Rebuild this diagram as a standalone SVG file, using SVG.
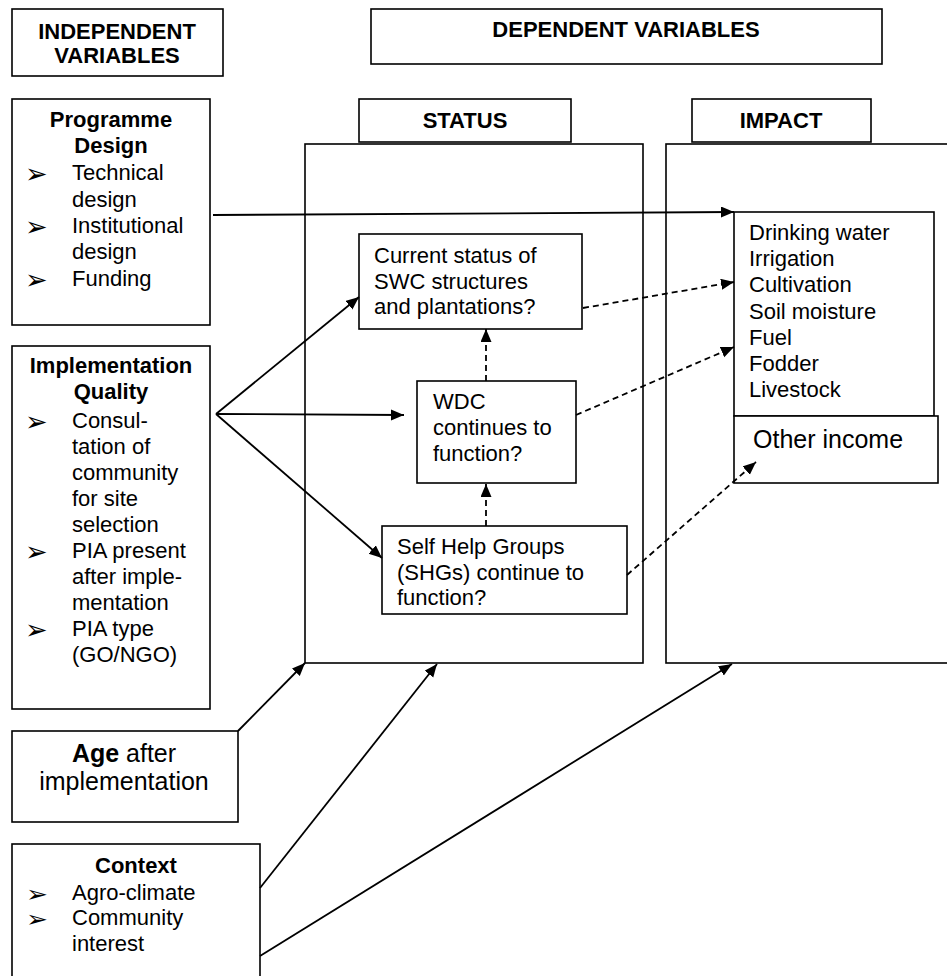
<svg xmlns="http://www.w3.org/2000/svg" width="947" height="976" viewBox="0 0 947 976">
<style>
.box{fill:#fff;stroke:#000;stroke-width:1.6}
.t{font-family:"Liberation Sans",Arial,sans-serif;font-size:22px;fill:#000}
.b{font-weight:bold}
.c{text-anchor:middle}
.big{font-size:25px}
.bul{font-family:"DejaVu Sans",sans-serif;font-size:27px;fill:#000}
.bs{font-family:"DejaVu Sans",sans-serif;font-size:21px;fill:#000}
.ln{fill:none;stroke:#000;stroke-width:1.8}
.dash{stroke-dasharray:6,4}
</style>
<defs>
<marker id="ah" markerUnits="userSpaceOnUse" markerWidth="14" markerHeight="12" refX="13" refY="5.5" orient="auto">
<path d="M0,0 L13,5.5 L0,11 z" fill="#000"/>
</marker>
</defs>

<g id="independent-header">
<rect class="box" x="12" y="9" width="211" height="67"/>
<text class="t b c" x="117" y="39">INDEPENDENT</text>
<text class="t b c" x="117" y="63">VARIABLES</text>
</g>

<g id="dependent-header">
<rect class="box" x="371" y="9" width="511" height="55"/>
<text class="t b c" x="626" y="37">DEPENDENT VARIABLES</text>
</g>

<g id="status-header">
<rect class="box" x="359" y="99" width="212" height="43"/>
<text class="t b c" x="465" y="128">STATUS</text>
</g>

<g id="impact-header">
<rect class="box" x="692" y="99" width="179" height="43"/>
<text class="t b c" x="781" y="128">IMPACT</text>
</g>

<g id="status-container">
<rect class="box" x="305" y="144" width="338" height="519"/>
</g>

<g id="impact-container">
<rect class="box" x="666" y="144" width="290" height="519"/>
</g>

<g id="programme-design">
<rect class="box" x="12" y="99" width="198" height="226"/>
<text class="t b c" x="111" y="127">Programme</text>
<text class="t b c" x="111" y="153">Design</text>
<text class="bul" x="25" y="183">➢</text>
<text class="t" x="72" y="180">Technical</text>
<text class="t" x="72" y="207">design</text>
<text class="bul" x="25" y="236">➢</text>
<text class="t" x="72" y="233">Institutional</text>
<text class="t" x="72" y="259">design</text>
<text class="bul" x="25" y="289">➢</text>
<text class="t" x="72" y="286">Funding</text>
</g>

<g id="implementation-quality">
<rect class="box" x="12" y="346" width="198" height="363"/>
<text class="t b c" x="111" y="373">Implementation</text>
<text class="t b c" x="111" y="399">Quality</text>
<text class="bul" x="25" y="431">➢</text>
<text class="t" x="72" y="428">Consul-</text>
<text class="t" x="72" y="454">tation of</text>
<text class="t" x="72" y="480">community</text>
<text class="t" x="72" y="506">for site</text>
<text class="t" x="72" y="532">selection</text>
<text class="bul" x="25" y="561">➢</text>
<text class="t" x="72" y="558">PIA present</text>
<text class="t" x="72" y="584">after imple-</text>
<text class="t" x="72" y="610">mentation</text>
<text class="bul" x="25" y="639">➢</text>
<text class="t" x="72" y="636">PIA type</text>
<text class="t" x="72" y="662">(GO/NGO)</text>
</g>

<g id="age">
<rect class="box" x="12" y="731" width="226" height="91"/>
<text class="t big c" x="124" y="762"><tspan class="b">Age</tspan> after</text>
<text class="t big c" x="124" y="790">implementation</text>
</g>

<g id="context">
<rect class="box" x="12" y="844" width="248" height="140"/>
<text class="t b c" x="136" y="873">Context</text>
<text class="bs" transform="translate(26,902) scale(1.25,1.1)">➢</text>
<text class="t" x="72" y="900">Agro-climate</text>
<text class="bs" transform="translate(26,927) scale(1.25,1.1)">➢</text>
<text class="t" x="72" y="925">Community</text>
<text class="t" x="72" y="951">interest</text>
</g>

<g id="current-status">
<rect class="box" x="359" y="234" width="223" height="95"/>
<text class="t" x="374" y="263">Current status of</text>
<text class="t" x="374" y="289">SWC structures</text>
<text class="t" x="374" y="314">and plantations?</text>
</g>

<g id="wdc">
<rect class="box" x="417" y="381" width="159" height="102"/>
<text class="t" x="433" y="409">WDC</text>
<text class="t" x="433" y="435">continues to</text>
<text class="t" x="433" y="461">function?</text>
</g>

<g id="shg">
<rect class="box" x="382" y="526" width="245" height="88"/>
<text class="t" x="397" y="554">Self Help Groups</text>
<text class="t" x="397" y="580">(SHGs) continue to</text>
<text class="t" x="397" y="605">function?</text>
</g>

<g id="impact-list">
<rect class="box" x="734" y="212" width="200" height="204"/>
<text class="t" x="749" y="240">Drinking water</text>
<text class="t" x="749" y="266">Irrigation</text>
<text class="t" x="749" y="292">Cultivation</text>
<text class="t" x="749" y="319">Soil moisture</text>
<text class="t" x="749" y="345">Fuel</text>
<text class="t" x="749" y="371">Fodder</text>
<text class="t" x="749" y="397">Livestock</text>
</g>

<g id="other-income">
<rect class="box" x="734" y="416" width="204" height="67"/>
<text class="t big" x="753" y="448">Other income</text>
</g>

<g id="connectors">
<line class="ln" x1="213" y1="215" x2="734" y2="212" marker-end="url(#ah)"/>
<line class="ln" x1="216" y1="414" x2="359" y2="297" marker-end="url(#ah)"/>
<line class="ln" x1="216" y1="414" x2="404" y2="415" marker-end="url(#ah)"/>
<line class="ln" x1="216" y1="414" x2="382" y2="558" marker-end="url(#ah)"/>
<line class="ln dash" x1="583" y1="308" x2="734" y2="282" marker-end="url(#ah)"/>
<line class="ln dash" x1="486" y1="381" x2="486" y2="329" marker-end="url(#ah)"/>
<line class="ln dash" x1="486" y1="526" x2="486" y2="484" marker-end="url(#ah)"/>
<line class="ln dash" x1="576" y1="415" x2="734" y2="347" marker-end="url(#ah)"/>
<line class="ln dash" x1="627" y1="575" x2="756" y2="462" marker-end="url(#ah)"/>
<line class="ln" x1="238" y1="731" x2="305" y2="663" marker-end="url(#ah)"/>
<line class="ln" x1="260" y1="888" x2="437" y2="664" marker-end="url(#ah)"/>
<line class="ln" x1="260" y1="956" x2="732" y2="664" marker-end="url(#ah)"/>
</g>
</svg>
